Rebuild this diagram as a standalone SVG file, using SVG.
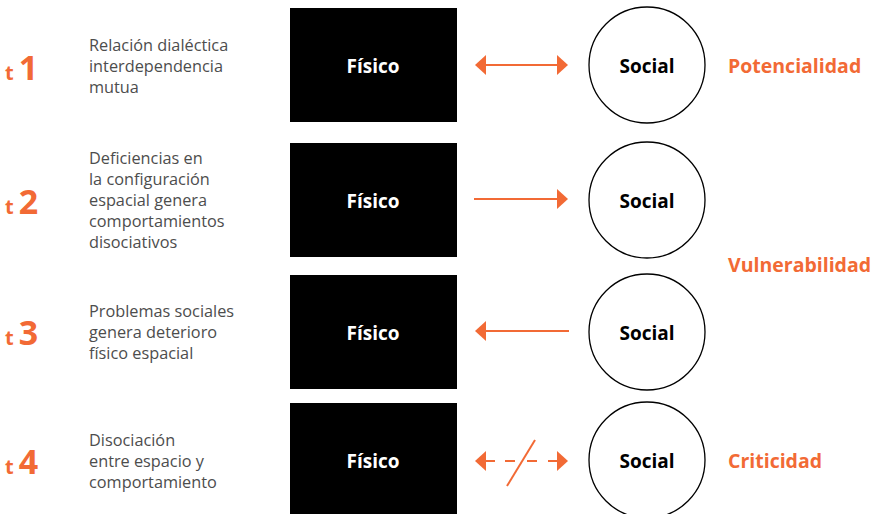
<svg xmlns="http://www.w3.org/2000/svg" width="875" height="514" viewBox="0 0 875 514">
<defs>
<style>
.desc{font-family:"Open Sans","Noto Sans",sans-serif;font-size:16.3px;fill:#4d4d4d}
.t{font-family:"Open Sans","Noto Sans",sans-serif;font-weight:bold;fill:#F26A35}
.ts{font-size:20px}
.tn{font-size:34px}
.box{fill:#000}
.circ{fill:#fff;stroke:#000;stroke-width:1.3}
.bl{font-family:"Open Sans","Noto Sans",sans-serif;font-weight:bold;font-size:19px;text-anchor:middle}
.state{font-family:"Open Sans","Noto Sans",sans-serif;font-weight:bold;font-size:19.5px;fill:#F26A35}
.ln{stroke:#F26A35;stroke-width:2;fill:none}
.hd{fill:#F26A35}
</style>
</defs>
<rect width="875" height="514" fill="#fff"/>
<g id="labels-t">
<text x="5" y="80"><tspan class="t ts">t</tspan><tspan class="t tn" dx="5">1</tspan></text>
<text x="5" y="214"><tspan class="t ts">t</tspan><tspan class="t tn" dx="5">2</tspan></text>
<text x="5" y="345"><tspan class="t ts">t</tspan><tspan class="t tn" dx="5">3</tspan></text>
<text x="5" y="474"><tspan class="t ts">t</tspan><tspan class="t tn" dx="5">4</tspan></text>
</g>
<g id="descriptions" class="desc">
<text x="89" y="51">Relación dialéctica</text>
<text x="89" y="72">interdependencia</text>
<text x="89" y="93">mutua</text>
<text x="89" y="164">Deficiencias en</text>
<text x="89" y="185">la configuración</text>
<text x="89" y="206">espacial genera</text>
<text x="89" y="227">comportamientos</text>
<text x="89" y="248">disociativos</text>
<text x="89" y="317">Problemas sociales</text>
<text x="89" y="338">genera deterioro</text>
<text x="89" y="359">físico espacial</text>
<text x="89" y="446">Disociación</text>
<text x="89" y="467">entre espacio y</text>
<text x="89" y="488">comportamiento</text>
</g>
<g id="fisico1"><rect class="box" x="290" y="8" width="167" height="114"/><text class="bl" x="373" y="73" fill="#fff">Físico</text></g>
<g id="fisico2"><rect class="box" x="290" y="143" width="167" height="114"/><text class="bl" x="373" y="208" fill="#fff">Físico</text></g>
<g id="fisico3"><rect class="box" x="290" y="275" width="167" height="114"/><text class="bl" x="373" y="340" fill="#fff">Físico</text></g>
<g id="fisico4"><rect class="box" x="290" y="403" width="167" height="114"/><text class="bl" x="373" y="468" fill="#fff">Físico</text></g>
<g id="social1"><circle class="circ" cx="647" cy="65" r="58"/><text class="bl" x="647" y="73" fill="#000">Social</text></g>
<g id="social2"><circle class="circ" cx="647" cy="200" r="58"/><text class="bl" x="647" y="208" fill="#000">Social</text></g>
<g id="social3"><circle class="circ" cx="647" cy="332" r="58"/><text class="bl" x="647" y="340" fill="#000">Social</text></g>
<g id="social4"><circle class="circ" cx="647" cy="460" r="58"/><text class="bl" x="647" y="468" fill="#000">Social</text></g>
<g id="states">
<text class="state" x="728" y="73">Potencialidad</text>
<text class="state" x="728" y="272">Vulnerabilidad</text>
<text class="state" x="728" y="468">Criticidad</text>
</g>
<g id="connectors">
<line class="ln" x1="484" y1="65" x2="558" y2="65"/>
<polygon class="hd" points="475,65 486,55 486,75"/>
<polygon class="hd" points="568,65 557,55 557,75"/>
<line class="ln" x1="474" y1="199" x2="558" y2="199"/>
<polygon class="hd" points="568,199 557,189 557,209"/>
<line class="ln" x1="486" y1="331" x2="569" y2="331"/>
<polygon class="hd" points="475,331 486,321 486,341"/>
<line class="ln" x1="484" y1="461" x2="495" y2="461"/>
<line class="ln" x1="505" y1="461" x2="515" y2="461"/>
<line class="ln" x1="527" y1="461" x2="537" y2="461"/>
<line class="ln" x1="548" y1="461" x2="558" y2="461"/>
<polygon class="hd" points="475,461 486,451 486,471"/>
<polygon class="hd" points="568,461 557,451 557,471"/>
<line class="ln" x1="535" y1="440" x2="507" y2="486"/>
</g>
</svg>
